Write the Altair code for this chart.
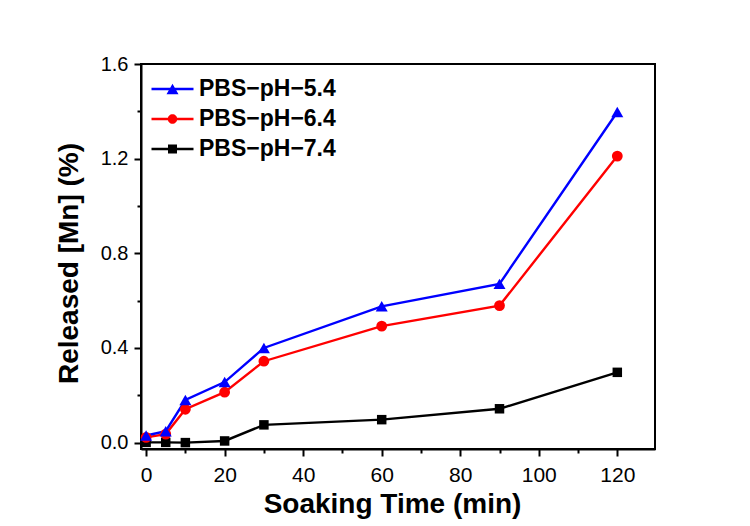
import altair as alt
import pandas as pd

times = [0, 5, 10, 20, 30, 60, 90, 120]
series_names = ["PBS\u2212pH\u22125.4", "PBS\u2212pH\u22126.4", "PBS\u2212pH\u22127.4"]
ph54 = [0.030, 0.048, 0.180, 0.256, 0.400, 0.576, 0.671, 1.397]
ph64 = [0.022, 0.036, 0.141, 0.213, 0.344, 0.492, 0.579, 1.211]
ph74 = [0.001, 0.001, 0.000, 0.007, 0.075, 0.097, 0.143, 0.297]
colors = ["#0000ff", "#ff0000", "#000000"]
shapes = ["triangle-up", "circle", "square"]
sizes = [144, 90, 81]

x_ticks = [0, 10, 20, 30, 40, 50, 60, 70, 80, 90, 100, 110, 120]
y_ticks = [0, 0.2, 0.4, 0.6, 0.8, 1.0, 1.2, 1.4, 1.6]

# legend glyphs: a short line segment with the series marker on it (pixel units, symbolSize=4)
legend_glyphs = [
    "M-21,-1.2L21,-1.2L21,1.2L-21,1.2ZM0,-5.2L6,5.2L-6,5.2Z",
    "M-21,-1.2L21,-1.2L21,1.2L-21,1.2ZM4.75,0A4.75,4.75,0,1,1,-4.75,0A4.75,4.75,0,1,1,4.75,0Z",
    "M-21,-1.2L21,-1.2L21,1.2L-21,1.2ZM-4.5,-4.5L4.5,-4.5L4.5,4.5L-4.5,4.5Z",
]

rows = []
# draw order: black first, then red, then blue on top
for name, vals in [(series_names[2], ph74), (series_names[1], ph64), (series_names[0], ph54)]:
    for t, v in zip(times, vals):
        rows.append({"time": t, "value": v, "series": name})
df = pd.DataFrame(rows)

FONT = "Liberation Sans"

x_enc = alt.X(
    "time:Q",
    scale=alt.Scale(domain=[-1.3, 129.6], nice=False, zero=False),
    axis=alt.Axis(
        values=x_ticks,
        title="Soaking Time (min)",
        labelExpr="datum.value % 20 === 0 ? datum.label : ''",
        tickSize={"condition": {"test": "datum.value % 20 === 0", "value": 7}, "value": 4},
        labelPadding=8,
        labelFontSize=21,
        titlePadding=5,
        titleX=251,
        grid=False,
    ),
)
y_enc = alt.Y(
    "value:Q",
    scale=alt.Scale(domain=[-0.027, 1.6], nice=False, zero=False),
    axis=alt.Axis(
        values=y_ticks,
        title="Released [Mn] (%)",
        labelExpr="round(datum.value * 10) % 4 === 0 ? format(datum.value, '.1f') : ''",
        tickSize={"condition": {"test": "round(datum.value * 10) % 4 === 0", "value": 7}, "value": 4},
        labelPadding=6,
        labelFontSize=20,
        titlePadding=17,
        titleY=199,
        grid=False,
    ),
)

legend_props = dict(
    title=None,
    orient="none",
    legendX=10.5,
    legendY=13.5,
    padding=0,
    symbolSize=4,
    symbolOffset=9.5,
    symbolStrokeWidth=0,
    symbolOpacity=1,
    labelOffset=15,
    labelFont=FONT,
    labelFontSize=23,
    labelFontWeight="bold",
    labelColor="#000000",
    labelLimit=0,
    labelBaseline="middle",
    rowPadding=6,
)

base = alt.Chart(df)

lines = base.mark_line(strokeWidth=2.4).encode(
    x=x_enc,
    y=y_enc,
    color=alt.Color("series:N", scale=alt.Scale(domain=series_names, range=colors), legend=None),
    detail="series:N",
    order="time:Q",
)

points = base.mark_point(filled=True, opacity=1).encode(
    x=x_enc,
    y=y_enc,
    color=alt.Color("series:N", scale=alt.Scale(domain=series_names, range=colors), legend=None),
    shape=alt.Shape("series:N", scale=alt.Scale(domain=series_names, range=shapes), legend=None),
    size=alt.Size("series:N", scale=alt.Scale(domain=series_names, range=sizes), legend=None),
)

legend_layer = base.mark_point(filled=True, opacity=0).encode(
    x=x_enc,
    y=y_enc,
    color=alt.Color("series:N", scale=alt.Scale(domain=series_names, range=colors),
                    legend=alt.Legend(**legend_props)),
    shape=alt.Shape("series:N", scale=alt.Scale(domain=series_names, range=legend_glyphs),
                    legend=alt.Legend(**legend_props)),
)

chart = (
    alt.layer(lines, points, legend_layer)
    .resolve_scale(color="independent", shape="independent")
    .properties(
        width=514,
        height=385,
        autosize=alt.AutoSizeParams(type="none"),
        padding={"left": 133, "top": 56, "right": 80, "bottom": 76},
        background="#ffffff",
    )
    .configure_view(stroke="#000000", strokeWidth=2)
    .configure_axis(
        domainColor="#000000",
        domainWidth=2,
        tickColor="#000000",
        tickWidth=2,
        labelFont=FONT,
        labelColor="#000000",
        titleFont=FONT,
        titleFontSize=28,
        titleFontWeight="bold",
        titleColor="#000000",
    )
)

chart.save("out.html", embed_options={"renderer": "svg", "actions": False})
